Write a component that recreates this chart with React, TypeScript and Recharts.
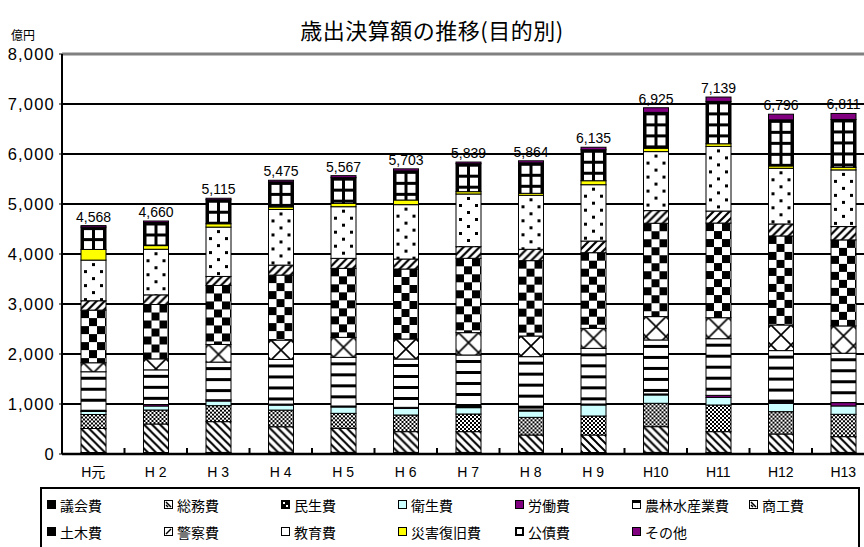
import React from "react";
import {
  BarChart,
  Bar,
  XAxis,
  YAxis,
  CartesianGrid,
  Legend,
  LabelList,
  ReferenceLine,
} from "recharts";

const years = ["H元", "H 2", "H 3", "H 4", "H 5", "H 6", "H 7", "H 8", "H 9", "H10", "H11", "H12", "H13"];
const totals = [4568, 4660, 5115, 5475, 5567, 5703, 5839, 5864, 6135, 6925, 7139, 6796, 6811];

// 億円
const gikai = [30, 30, 32, 35, 33, 32, 32, 30, 30, 32, 32, 30, 32];
const soumu = [480, 570, 615, 510, 480, 415, 415, 350, 350, 515, 415, 370, 315];
const minsei = [280, 280, 320, 333, 300, 333, 353, 353, 380, 467, 533, 447, 447];
const eisei = [60, 80, 93, 100, 127, 133, 127, 127, 220, 167, 153, 167, 167];
const roudou = [15, 30, 25, 20, 20, 20, 20, 20, 20, 20, 40, 14, 67];
const nourin = [780, 693, 753, 893, 973, 967, 1033, 1067, 1113, 1080, 1133, 1040, 987];
const shoukou = [180, 220, 353, 387, 400, 400, 447, 413, 400, 467, 420, 513, 547];
const doboku = [1053, 1087, 1180, 1300, 1380, 1400, 1487, 1507, 1513, 1867, 1893, 1780, 1720];
const keisatsu = [187, 193, 180, 200, 200, 200, 233, 227, 233, 253, 240, 240, 267];
const kyouiku = [813, 912, 987, 1113, 1033, 1087, 1053, 1080, 1127, 1180, 1293, 1113, 1133];
const saigai = [213, 73, 67, 50, 67, 93, 47, 40, 80, 67, 53, 47, 53];
const kousai = [447, 462, 480, 501, 514, 583, 559, 610, 619, 717, 847, 922, 956];
const sonota = [30, 30, 30, 33, 40, 40, 33, 40, 50, 93, 87, 113, 120];

const yTicks = [0, 1000, 2000, 3000, 4000, 5000, 6000, 7000, 8000];

const series = [
  { key: "gikai", name: "議会費", values: gikai, kind: "black" },
  { key: "soumu", name: "総務費", values: soumu, kind: "hatchBack" },
  { key: "minsei", name: "民生費", values: minsei, kind: "fineCheck" },
  { key: "eisei", name: "衛生費", values: eisei, kind: "cyan" },
  { key: "roudou", name: "労働費", values: roudou, kind: "purple" },
  { key: "nourin", name: "農林水産業費", values: nourin, kind: "stripes" },
  { key: "shoukou", name: "商工費", values: shoukou, kind: "cross" },
  { key: "doboku", name: "土木費", values: doboku, kind: "bigCheck" },
  { key: "keisatsu", name: "警察費", values: keisatsu, kind: "hatchFwd" },
  { key: "kyouiku", name: "教育費", values: kyouiku, kind: "dots" },
  { key: "saigai", name: "災害復旧費", values: saigai, kind: "yellow" },
  { key: "kousai", name: "公債費", values: kousai, kind: "grid" },
  { key: "sonota", name: "その他", values: sonota, kind: "purple" },
];

const data = years.map((year, i) => {
  const row: Record<string, string | number> = { year, total: totals[i] };
  series.forEach((s) => {
    row[s.key] = s.values[i];
  });
  return row;
});

const solid: Record<string, string> = {
  black: "#000000",
  cyan: "#ccffff",
  purple: "#800080",
  yellow: "#ffff00",
};

const latin = "'Liberation Sans', Arial, 'Noto Sans CJK JP', sans-serif";
const cjk = "'Noto Sans CJK JP', 'Noto Sans', sans-serif";

function makePattern(kind: string, id: string, x: number, y: number) {
  const common = { id, patternUnits: "userSpaceOnUse" as const, y };
  switch (kind) {
    case "hatchBack":
      return (
        <pattern {...common} x={x} width={8} height={8}>
          <rect width={8} height={8} fill="#fff" />
          <path d="M-2,-2 L10,10 M-2,6 L2,10 M6,-2 L10,2" stroke="#000" strokeWidth={2} />
        </pattern>
      );
    case "fineCheck":
      return (
        <pattern {...common} x={x} width={4} height={4}>
          <rect width={4} height={4} fill="#000" />
          <rect width={2} height={2} fill="#fff" />
          <rect x={2} y={2} width={2} height={2} fill="#fff" />
        </pattern>
      );
    case "stripes":
      return (
        <pattern {...common} x={x} width={25} height={11}>
          <rect width={25} height={11} fill="#fff" />
          <rect y={5} width={25} height={3} fill="#000" />
        </pattern>
      );
    case "cross":
      return (
        <pattern {...common} x={x + 2.5} width={20} height={20}>
          <rect width={20} height={20} fill="#fff" />
          <path d="M0,0 L20,20 M20,0 L0,20" stroke="#000" strokeWidth={1.6} />
        </pattern>
      );
    case "bigCheck":
      return (
        <pattern {...common} x={x} width={16} height={16}>
          <rect width={16} height={16} fill="#fff" />
          <rect width={8} height={8} fill="#000" />
          <rect x={8} y={8} width={8} height={8} fill="#000" />
        </pattern>
      );
    case "hatchFwd":
      return (
        <pattern {...common} x={x} width={8} height={8}>
          <rect width={8} height={8} fill="#fff" />
          <path d="M-2,10 L10,-2 M-2,2 L2,-2 M6,10 L10,6" stroke="#000" strokeWidth={2.2} />
        </pattern>
      );
    case "dots":
      return (
        <pattern {...common} x={x} width={16} height={14}>
          <rect width={16} height={14} fill="#fff" />
          <rect x={11} y={3} width={3} height={3} fill="#000" />
          <rect x={3} y={10} width={3} height={3} fill="#000" />
        </pattern>
      );
    case "grid":
      return (
        <pattern {...common} x={x} width={11} height={11}>
          <rect width={11} height={11} fill="#000" />
          <rect x={3} y={3} width={8} height={8} fill="#fff" />
        </pattern>
      );
    default:
      return null;
  }
}

function Segment(props: any) {
  const { x, y, width, height, index, kind, skey } = props;
  if (!height || height <= 0) return null;
  const id = `pat-${skey}-${index}`;
  const fill = solid[kind] ?? `url(#${id})`;
  return (
    <g>
      {!solid[kind] && <defs>{makePattern(kind, id, x, y)}</defs>}
      <rect x={x} y={y} width={width} height={height} fill={fill} stroke="#000" strokeWidth={1} />
    </g>
  );
}

function XTick(props: any) {
  const { x, y, payload } = props;
  const half = payload && payload.offset ? payload.offset : 31.25;
  return (
    <g>
      <line x1={x + half} x2={x + half} y1={y - 6} y2={y} stroke="#000" strokeWidth={2} />
      <text x={x} y={y + 23} textAnchor="middle" fontSize={14} fill="#000" fontFamily={latin}>
        {payload.value}
      </text>
    </g>
  );
}

function Marker({ kind }: { kind: string }) {
  const s = 8;
  let inner: React.ReactNode = null;
  switch (kind) {
    case "black":
    case "bigCheck":
      inner = <rect x={0.5} y={0.5} width={s} height={s} fill="#000" stroke="#000" />;
      break;
    case "hatchBack":
    case "cross":
      inner = (
        <>
          <rect x={0.5} y={0.5} width={s} height={s} fill="#fff" stroke="#000" />
          <path d="M2,2 L7,7 M2,5 L4,7" stroke="#000" strokeWidth={1.5} />
        </>
      );
      break;
    case "hatchFwd":
      inner = (
        <>
          <rect x={0.5} y={0.5} width={s} height={s} fill="#fff" stroke="#000" />
          <path d="M2,7 L7,2" stroke="#000" strokeWidth={1.5} />
        </>
      );
      break;
    case "fineCheck":
      inner = (
        <>
          <rect x={0.5} y={0.5} width={s} height={s} fill="#000" stroke="#000" />
          <rect x={2} y={2} width={2} height={2} fill="#fff" />
          <rect x={5} y={5} width={2} height={2} fill="#fff" />
        </>
      );
      break;
    case "stripes":
      inner = (
        <>
          <rect x={0.5} y={0.5} width={s} height={s} fill="#fff" stroke="#000" />
          <rect x={0.5} y={0.5} width={s} height={2.5} fill="#000" />
        </>
      );
      break;
    case "grid":
      inner = <rect x={1} y={1} width={s - 1} height={s - 1} fill="#fff" stroke="#000" strokeWidth={2} />;
      break;
    case "dots":
      inner = <rect x={0.5} y={0.5} width={s} height={s} fill="#fff" stroke="#000" />;
      break;
    default:
      inner = <rect x={0.5} y={0.5} width={s} height={s} fill={solid[kind]} stroke="#000" />;
  }
  return (
    <svg width={9} height={9} style={{ display: "block", marginRight: 4 }}>
      {inner}
    </svg>
  );
}

function LegendBox() {
  return (
    <div
      style={{
        boxSizing: "border-box",
        width: "100%",
        height: "100%",
        border: "2px solid #000",
        background: "#fff",
        paddingLeft: 5,
        paddingTop: 2,
        display: "grid",
        gridTemplateColumns: "repeat(7, 117px)",
        gridAutoRows: "27px",
      }}
    >
      {series.map((s) => (
        <div key={s.key} style={{ display: "flex", alignItems: "center", whiteSpace: "nowrap" }}>
          <Marker kind={s.kind} />
          <span style={{ fontFamily: cjk, fontSize: 14, color: "#000", lineHeight: "16px" }}>{s.name}</span>
        </div>
      ))}
    </div>
  );
}

export default function App() {
  return (
    <div
      style={{
        position: "absolute",
        left: 0,
        top: 0,
        width: 864,
        height: 547,
        overflow: "hidden",
        background: "#fff",
      }}
    >
      <div
        style={{
          position: "absolute",
          left: 0,
          width: 864,
          top: 14,
          textAlign: "center",
          fontFamily: cjk,
          fontSize: 22,
          letterSpacing: 0.5,
          color: "#000",
          lineHeight: "30px",
          zIndex: 2,
        }}
      >
        歳出決算額の推移(目的別)
      </div>
      <div
        style={{
          position: "absolute",
          left: 11,
          top: 26,
          fontFamily: cjk,
          fontSize: 12,
          color: "#000",
          zIndex: 2,
        }}
      >
        億円
      </div>
      <BarChart
        width={880}
        height={547}
        data={data}
        margin={{ top: 54, right: 5.5, left: 0, bottom: 0 }}
        barSize={25}
      >
        <CartesianGrid vertical={false} stroke="#000" strokeWidth={2} />
        <ReferenceLine y={8000} stroke="#808080" strokeWidth={3} />
        <XAxis
          dataKey="year"
          height={93}
          interval={0}
          tickLine={false}
          tickSize={0}
          tickMargin={0}
          axisLine={{ stroke: "#000", strokeWidth: 2.5 }}
          tick={<XTick />}
        />
        <YAxis
          width={62}
          domain={[0, 8000]}
          ticks={yTicks}
          interval={0}
          tickSize={3}
          tickMargin={4}
          tickLine={{ stroke: "#000" }}
          axisLine={{ stroke: "#000", strokeWidth: 2 }}
          tickFormatter={(v: number) => v.toLocaleString("en-US")}
          tick={{ fontSize: 16.5, fill: "#000", fontFamily: latin, letterSpacing: 1.2 }}
        />
        <Legend
          layout="horizontal"
          verticalAlign="middle"
          align="center"
          content={<LegendBox />}
          wrapperStyle={{ position: "absolute", left: 40, top: 487, width: 820, height: 70 }}
        />
        {series.map((s, i) => (
          <Bar
            key={s.key}
            dataKey={s.key}
            name={s.name}
            stackId="a"
            fill={solid[s.kind] ?? "#fff"}
            isAnimationActive={false}
            shape={(p: any) => <Segment {...p} kind={s.kind} skey={s.key} />}
          >
            {i === series.length - 1 && (
              <LabelList
                dataKey="total"
                position="top"
                offset={4}
                fill="#000"
                fontSize={14}
                fontFamily={latin}
                formatter={(v: any) => Number(v).toLocaleString("en-US")}
              />
            )}
          </Bar>
        ))}
      </BarChart>
    </div>
  );
}
